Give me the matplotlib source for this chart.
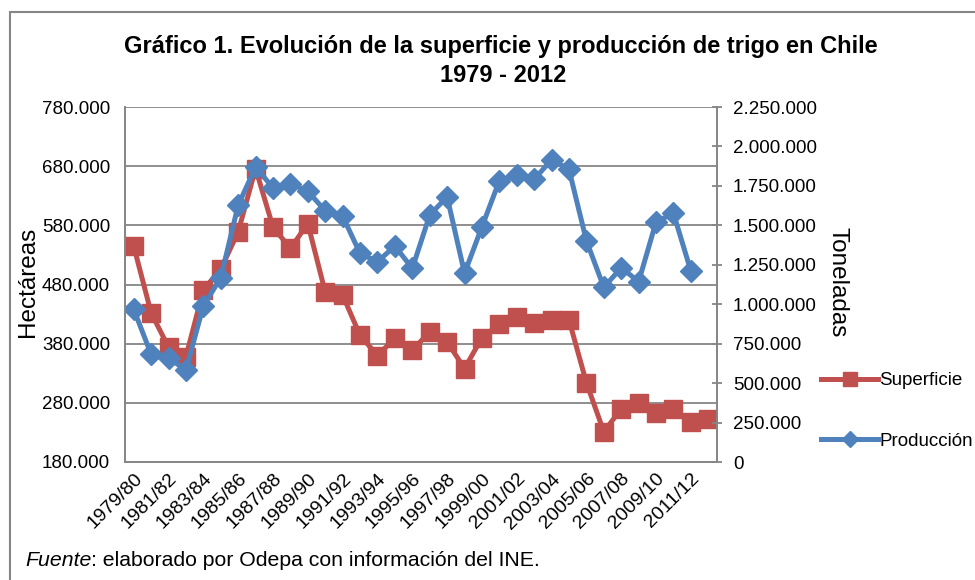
import matplotlib.pyplot as plt
from matplotlib.patches import Rectangle
from matplotlib.ticker import FuncFormatter

plt.rcParams['font.family'] = ['Liberation Sans', 'DejaVu Sans']

campanas = ['1979/80', '1980/81', '1981/82', '1982/83', '1983/84', '1984/85', '1985/86',
            '1986/87', '1987/88', '1988/89', '1989/90', '1990/91', '1991/92', '1992/93',
            '1993/94', '1994/95', '1995/96', '1996/97', '1997/98', '1998/99', '1999/00',
            '2000/01', '2001/02', '2002/03', '2003/04', '2004/05', '2005/06', '2006/07',
            '2007/08', '2008/09', '2009/10', '2010/11', '2011/12', '2012/13']

# hectareas
superficie = [545000, 432000, 374000, 358000, 471000, 506000, 569000, 676000, 577000,
              541000, 583000, 467000, 462000, 394000, 360000, 389000, 369000, 400000,
              383000, 338000, 390000, 413000, 425000, 415000, 420000, 420000, 314000,
              231000, 270000, 279000, 263000, 270000, 248000, 253000]

# toneladas
produccion = [968000, 683000, 658000, 584000, 989000, 1168000, 1628000, 1870000, 1737000,
              1765000, 1716000, 1592000, 1558000, 1322000, 1269000, 1369000, 1227000,
              1565000, 1681000, 1196000, 1491000, 1782000, 1818000, 1791000, 1917000,
              1854000, 1402000, 1107000, 1231000, 1143000, 1522000, 1576000, 1210000]

ticks_izq = [180000, 280000, 380000, 480000, 580000, 680000, 780000]
ticks_der = [0, 250000, 500000, 750000, 1000000, 1250000, 1500000, 1750000, 2000000, 2250000]

rojo = '#C0504D'
azul = '#4F81BD'
gris = '#868686'


def miles(v, pos):
    return f'{int(v):,}'.replace(',', '.')


fig = plt.figure(figsize=(9.75, 5.8), dpi=100)
ax1 = fig.add_axes([125 / 975, 1 - 462 / 580, 592 / 975, 355 / 580])
ax2 = ax1.twinx()

x = list(range(len(campanas)))
l1, = ax1.plot(x, superficie, color=rojo, lw=3.6, marker='s', ms=13.5, label='Superficie')
l2, = ax2.plot(x[:len(produccion)], produccion, color=azul, lw=3.6, marker='D', ms=11,
               label='Producción')

ax1.set_xlim(-0.5, len(campanas) - 0.5)
ax1.set_ylim(180000, 780000)
ax2.set_ylim(0, 2250000)
ax1.set_yticks(ticks_izq)
ax2.set_yticks(ticks_der)
ax1.yaxis.set_major_formatter(FuncFormatter(miles))
ax2.yaxis.set_major_formatter(FuncFormatter(miles))

ax1.set_xticks(x[::2])
ax1.set_xticklabels(campanas[::2], rotation=45, ha='right', rotation_mode='anchor',
                    fontsize=14)
ax1.tick_params(axis='x', length=0, pad=6)
ax1.tick_params(axis='y', length=0, pad=10.7, labelsize=13.5)
ax2.tick_params(axis='y', direction='inout', length=7, width=1.3, color=gris, pad=8,
                labelsize=13.5)

ax1.grid(axis='y', color=gris, lw=1.3)
ax1.set_axisbelow(True)
for ax in (ax1, ax2):
    for s in ax.spines.values():
        s.set_color(gris)
        s.set_linewidth(1.3)
    ax.spines['top'].set_visible(False)

ax1.set_ylabel('Hectáreas', fontsize=17.5)
ax1.yaxis.set_label_coords(-0.145, 0.507)
ax2.set_ylabel('Toneladas', fontsize=17.5, rotation=270, va='center')
ax2.yaxis.set_label_coords(1.204, 0.507)

fig.text(501 / 975, 1 - 47 / 580, 'Gráfico 1. Evolución de la superficie y producción de trigo en Chile',
         ha='center', va='center', fontsize=17, fontweight='bold')
fig.text(503 / 975, 1 - 75 / 580, '1979 - 2012', ha='center', va='center', fontsize=17,
         fontweight='bold')

fig.legend(handles=[l1, l2], loc='center left', bbox_to_anchor=(812 / 975, 1 - 411 / 580),
           frameon=False, fontsize=13.5, handlelength=3, handletextpad=0.1, labelspacing=2.3,
           markerscale=0.7, borderpad=0)

fuente = fig.text(25 / 975, 1 - 560 / 580, 'Fuente', style='italic', fontsize=15.3, va='center')
ax1.annotate(': elaborado por Odepa con información del INE.', xy=(1, 0.5),
             xycoords=fuente, ha='left', va='center', fontsize=15.3, annotation_clip=False)

fig.patches.append(Rectangle((10 / 975, -0.05), 1.2, 1.05 - 12 / 580, transform=fig.transFigure,
                             fill=False, edgecolor=gris, lw=1.5))

fig.savefig('out.png', dpi=100)
